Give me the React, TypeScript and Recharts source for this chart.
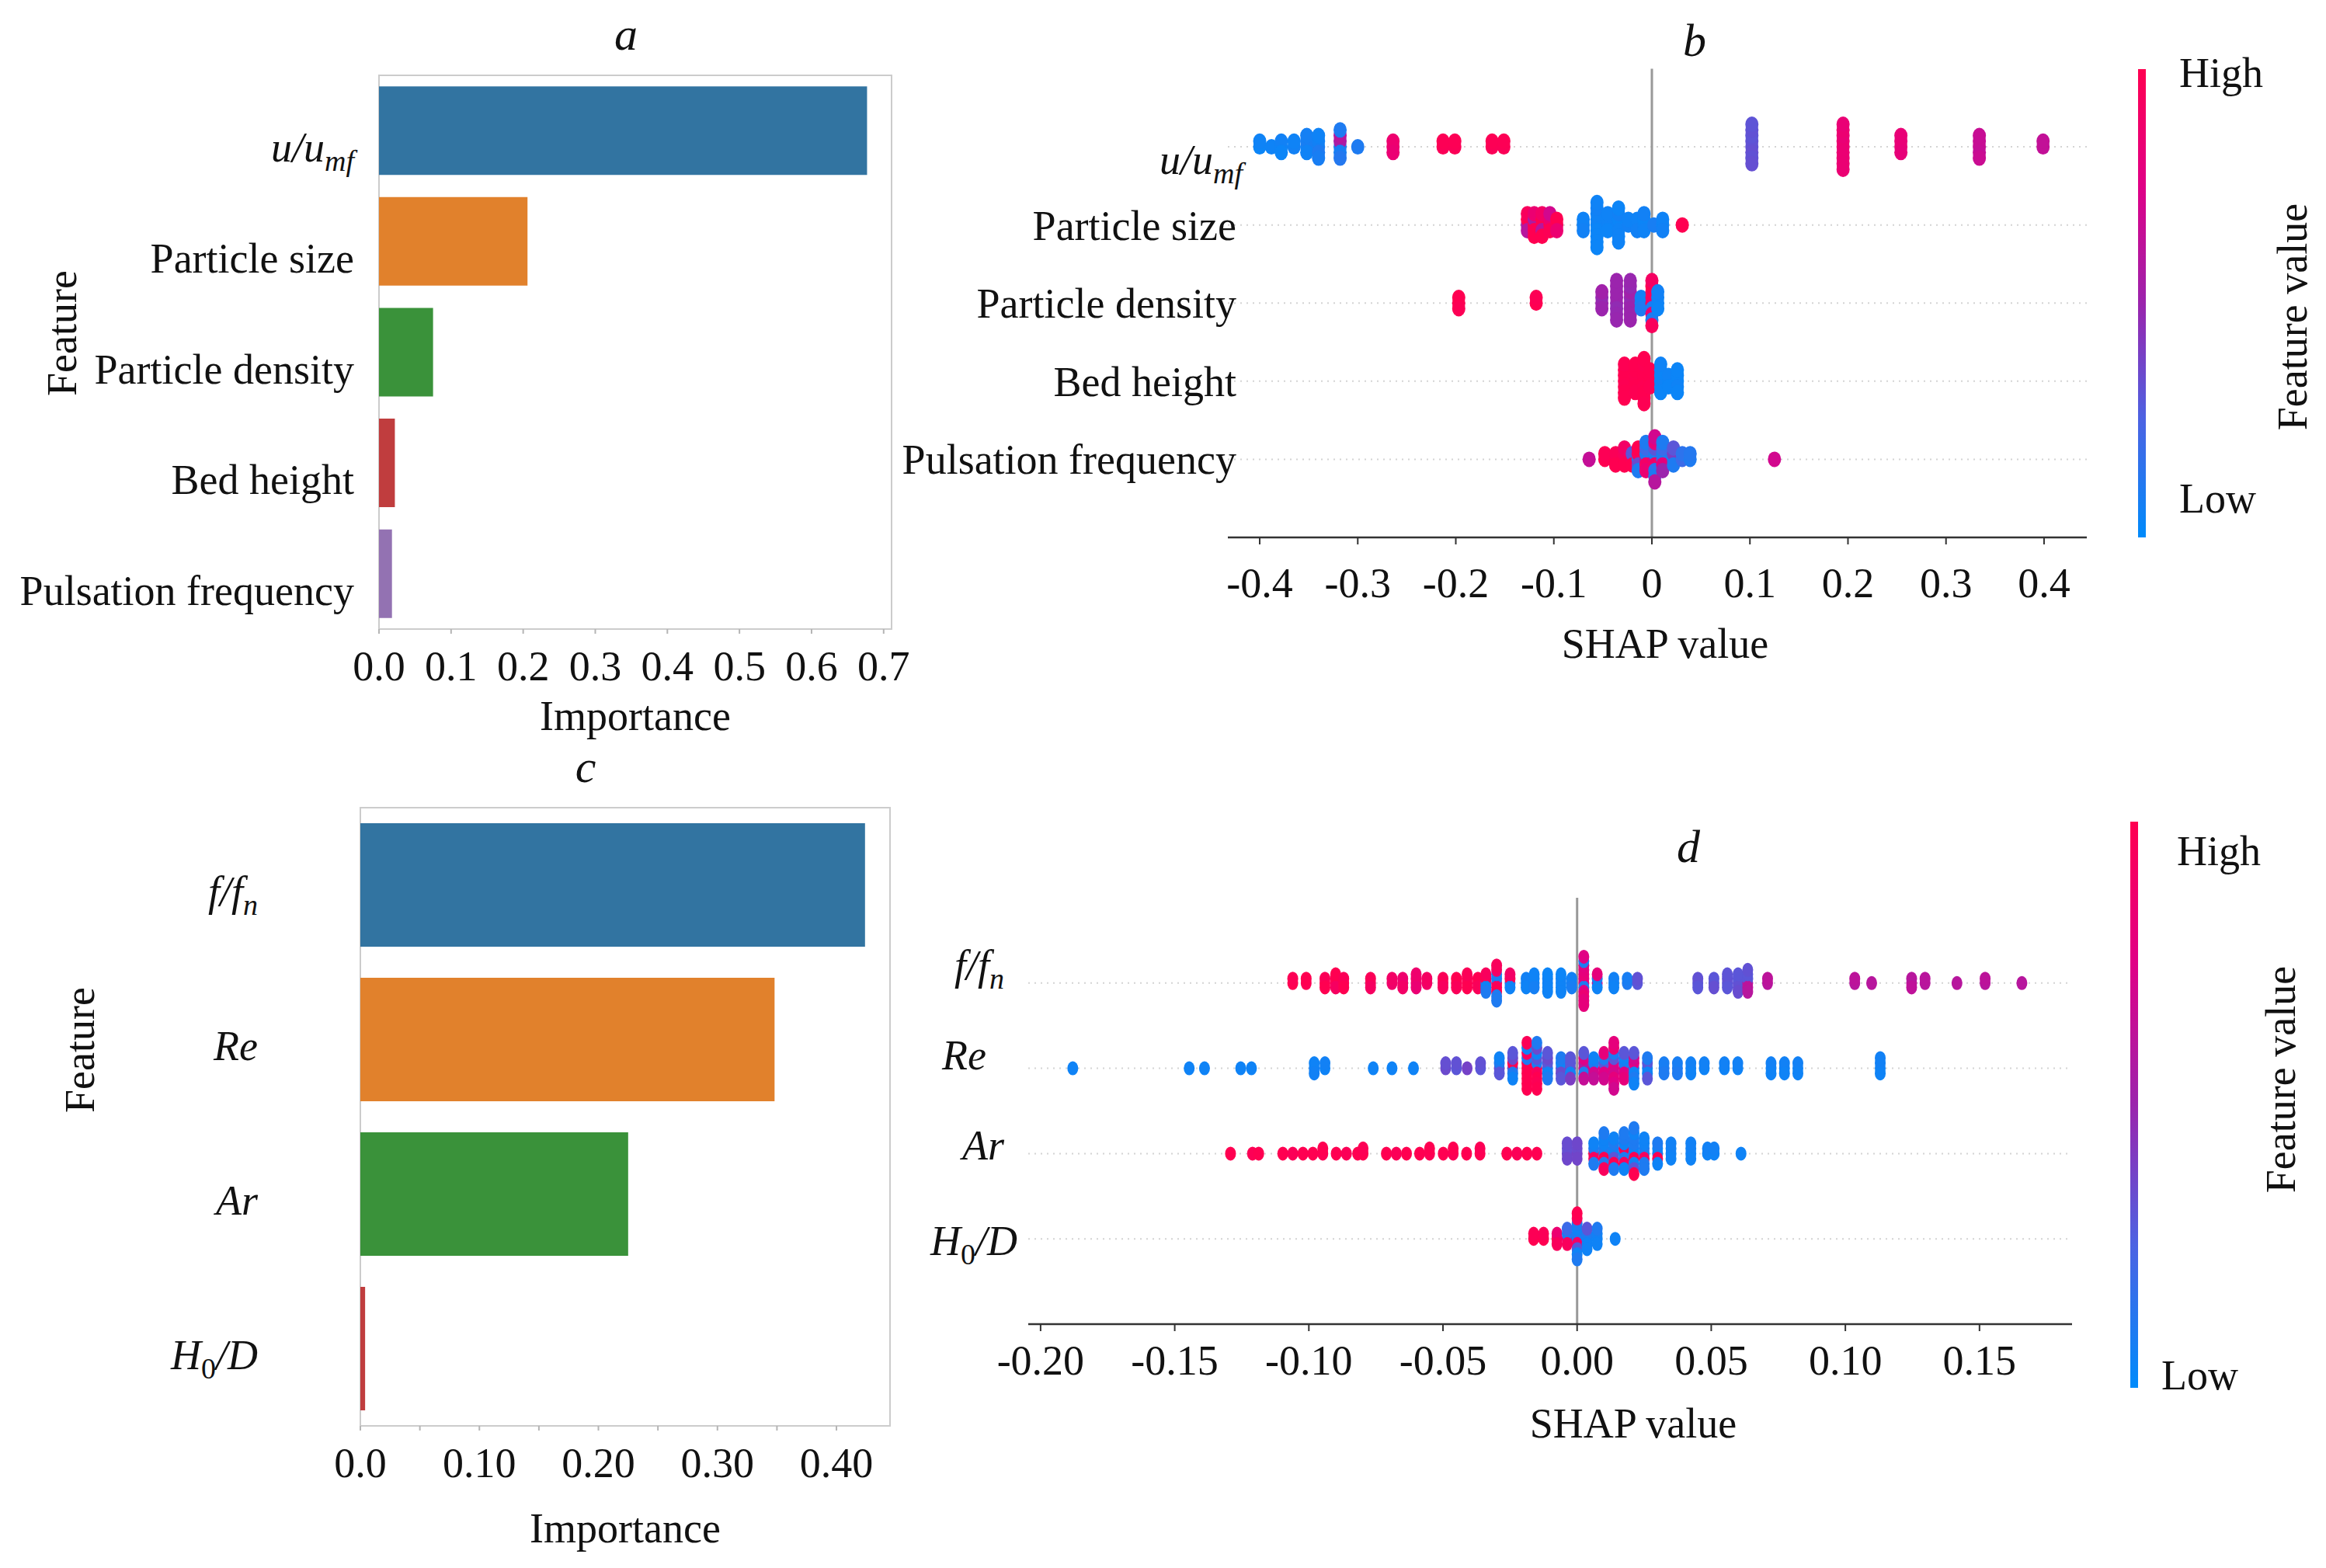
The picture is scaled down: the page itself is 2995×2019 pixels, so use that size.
import React from 'react';
import {
  BarChart, Bar, Cell, XAxis, YAxis, ReferenceArea, ReferenceLine,
  ScatterChart, Scatter, Label,
} from 'recharts';

const FONT = '"Liberation Serif", "Times New Roman", serif';
const FS = 54;

// ---------- panel a: feature importance ----------
const featuresA = ['u/u_mf', 'Particle size', 'Particle density', 'Bed height', 'Pulsation frequency'];
const importanceA = [0.677, 0.206, 0.075, 0.022, 0.018];
const ticksA = [0, 0.1, 0.2, 0.3, 0.4, 0.5, 0.6, 0.7];

// ---------- panel c: feature importance ----------
const featuresC = ['f/f_n', 'Re', 'Ar', 'H_0/D'];
const importanceC = [0.424, 0.348, 0.225, 0.004];
const ticksC = [0, 0.05, 0.1, 0.15, 0.2, 0.25, 0.3, 0.35, 0.4];

const barColors = ['#3274a1', '#e1812c', '#3a923a', '#c03d3e', '#9372b2'];

// ---------- panel b: SHAP values [shap, normalised feature value] ----------
type ShapPoint = [number, number];

const uUmfShap: ShapPoint[] = [
  [-0.4, 0.04], [-0.4, 0.05],
  [-0.388, 0.05],
  [-0.378, 0.05], [-0.378, 0.06], [-0.378, 0.04],
  [-0.365, 0.06], [-0.365, 0.05],
  [-0.352, 0.06], [-0.352, 0.08], [-0.352, 0.05], [-0.352, 0.07],
  [-0.34, 0.08], [-0.34, 0.06], [-0.34, 0.1], [-0.34, 0.05], [-0.34, 0.08],
  [-0.318, 0.1], [-0.318, 0.55], [-0.318, 0.08], [-0.318, 0.6], [-0.318, 0.12], [-0.318, 0.1],
  [-0.3, 0.1],
  [-0.264, 0.85], [-0.264, 0.86], [-0.264, 0.84],
  [-0.213, 0.97], [-0.213, 0.98],
  [-0.201, 0.97], [-0.201, 0.98],
  [-0.163, 0.97], [-0.163, 0.98],
  [-0.151, 0.97], [-0.151, 0.98],
  [0.102, 0.32], [0.102, 0.32], [0.102, 0.33], [0.102, 0.31], [0.102, 0.32], [0.102, 0.32], [0.102, 0.33], [0.102, 0.31],
  [0.195, 0.84], [0.195, 0.85], [0.195, 0.84], [0.195, 0.83], [0.195, 0.84], [0.195, 0.85], [0.195, 0.84], [0.195, 0.83], [0.195, 0.84],
  [0.254, 0.82], [0.254, 0.82], [0.254, 0.81], [0.254, 0.82],
  [0.334, 0.66], [0.334, 0.66], [0.334, 0.65], [0.334, 0.66], [0.334, 0.67],
  [0.399, 0.64], [0.399, 0.64],
];

const particleSizeShap: ShapPoint[] = [
  [-0.127, 0.55], [-0.127, 1], [-0.127, 0.6], [-0.127, 0.95],
  [-0.12, 1], [-0.12, 0.55], [-0.12, 0.98], [-0.12, 0.85], [-0.12, 1],
  [-0.112, 0.98], [-0.112, 1], [-0.112, 0.6], [-0.112, 0.9], [-0.112, 1],
  [-0.104, 1], [-0.104, 0.85], [-0.104, 0.98], [-0.104, 0.7],
  [-0.097, 0.95], [-0.097, 1], [-0.097, 0.85],
  [-0.07, 0.05], [-0.07, 0.05], [-0.07, 0.06],
  [-0.056, 0.04], [-0.056, 0.05], [-0.056, 0.04], [-0.056, 0.05], [-0.056, 0.04], [-0.056, 0.06], [-0.056, 0.04], [-0.056, 0.05], [-0.056, 0.04],
  [-0.045, 0.05], [-0.045, 0.05], [-0.045, 0.04], [-0.045, 0.05],
  [-0.034, 0.05], [-0.034, 0.04], [-0.034, 0.05], [-0.034, 0.06], [-0.034, 0.05], [-0.034, 0.04], [-0.034, 0.05],
  [-0.024, 0.06], [-0.024, 0.05],
  [-0.015, 0.05], [-0.015, 0.05], [-0.015, 0.06],
  [-0.008, 0.05], [-0.008, 0.04], [-0.008, 0.05], [-0.008, 0.06],
  [0.002, 0.08],
  [0.011, 0.05], [0.011, 0.05], [0.011, 0.06],
  [0.031, 1],
];

const particleDensityShap: ShapPoint[] = [
  [-0.197, 1], [-0.197, 1], [-0.197, 0.98],
  [-0.118, 1], [-0.118, 0.98],
  [-0.051, 0.5], [-0.051, 0.48], [-0.051, 0.5], [-0.051, 0.52],
  [-0.036, 0.48], [-0.036, 0.5], [-0.036, 0.47], [-0.036, 0.5], [-0.036, 0.48], [-0.036, 0.5], [-0.036, 0.49], [-0.036, 0.5],
  [-0.022, 0.5], [-0.022, 0.48], [-0.022, 0.5], [-0.022, 0.52], [-0.022, 0.5], [-0.022, 0.48], [-0.022, 0.5], [-0.022, 0.49],
  [-0.011, 0.08], [-0.011, 0.06], [-0.011, 0.1],
  [0, 0.97], [0, 0.9], [0, 0.1], [0, 0.95], [0, 0.85], [0, 1], [0, 0.1], [0, 0.92], [0, 0.95],
  [0.006, 0.05], [0.006, 0.05], [0.006, 0.04], [0.006, 0.06],
];

const bedHeightShap: ShapPoint[] = [
  [-0.028, 1], [-0.028, 1], [-0.028, 0.99], [-0.028, 1], [-0.028, 1], [-0.028, 0.99], [-0.028, 1],
  [-0.017, 1], [-0.017, 0.99], [-0.017, 1], [-0.017, 1], [-0.017, 0.99], [-0.017, 1],
  [-0.008, 1], [-0.008, 1], [-0.008, 0.99], [-0.008, 1], [-0.008, 1], [-0.008, 0.99], [-0.008, 1], [-0.008, 1], [-0.008, 0.99],
  [-0.002, 1], [-0.002, 1], [-0.002, 0.99], [-0.002, 1],
  [0.009, 0.04], [0.009, 0.04], [0.009, 0.05], [0.009, 0.04], [0.009, 0.04], [0.009, 0.05],
  [0.017, 0.04], [0.017, 0.05], [0.017, 0.04],
  [0.026, 0.04], [0.026, 0.04], [0.026, 0.05], [0.026, 0.04], [0.026, 0.04],
];

const pulsationShap: ShapPoint[] = [
  [-0.064, 0.65],
  [-0.048, 1], [-0.048, 0.98],
  [-0.037, 1], [-0.037, 0.97], [-0.037, 1],
  [-0.028, 1], [-0.028, 0.95], [-0.028, 1], [-0.028, 0.9],
  [-0.02, 0.95], [-0.02, 0.3], [-0.02, 1],
  [-0.014, 0.1], [-0.014, 0.95], [-0.014, 0.35], [-0.014, 1], [-0.014, 0.1],
  [-0.006, 0.6], [-0.006, 0.1], [-0.006, 0.9], [-0.006, 0.2], [-0.006, 0.85], [-0.006, 0.1],
  [0.003, 0.75], [0.003, 0.1], [0.003, 0.9], [0.003, 0.3], [0.003, 0.15], [0.003, 0.8], [0.003, 0.1], [0.003, 0.7], [0.003, 0.6],
  [0.011, 0.3], [0.011, 0.1], [0.011, 0.8], [0.011, 0.2], [0.011, 0.5], [0.011, 0.1],
  [0.022, 0.1], [0.022, 0.4], [0.022, 0.1], [0.022, 0.3],
  [0.031, 0.2], [0.031, 0.15],
  [0.039, 0.1], [0.039, 0.12],
  [0.125, 0.7],
];

// ---------- panel d: SHAP values ----------
const ffnShap: ShapPoint[] = [
  [-0.106, 1], [-0.106, 0.98],
  [-0.101, 0.98], [-0.101, 1],
  [-0.094, 1], [-0.094, 0.97], [-0.094, 1],
  [-0.09, 0.95], [-0.09, 1], [-0.09, 0.93], [-0.09, 1],
  [-0.087, 1], [-0.087, 0.97], [-0.087, 1],
  [-0.077, 0.95], [-0.077, 0.97], [-0.077, 0.93],
  [-0.069, 0.88], [-0.069, 0.9],
  [-0.065, 0.9], [-0.065, 0.87], [-0.065, 0.9],
  [-0.06, 0.85], [-0.06, 0.88], [-0.06, 0.84], [-0.06, 0.87],
  [-0.056, 0.9], [-0.056, 0.92],
  [-0.05, 0.95], [-0.05, 0.97], [-0.05, 0.94],
  [-0.045, 0.97], [-0.045, 1], [-0.045, 0.96],
  [-0.041, 1], [-0.041, 0.98], [-0.041, 1], [-0.041, 0.97],
  [-0.037, 0.95], [-0.037, 1], [-0.037, 0.96],
  [-0.034, 0.1], [-0.034, 1], [-0.034, 0.05], [-0.034, 0.95], [-0.034, 0.1],
  [-0.03, 1], [-0.03, 0.1], [-0.03, 0.95], [-0.03, 0.08], [-0.03, 1], [-0.03, 0.9], [-0.03, 0.1], [-0.03, 0.95], [-0.03, 0.1],
  [-0.025, 0.1], [-0.025, 1], [-0.025, 0.05], [-0.025, 0.9],
  [-0.019, 0.05], [-0.019, 0.06], [-0.019, 0.05],
  [-0.016, 0.06], [-0.016, 0.05], [-0.016, 0.07], [-0.016, 0.05],
  [-0.011, 0.05], [-0.011, 0.06], [-0.011, 0.05], [-0.011, 0.04], [-0.011, 0.05],
  [-0.006, 0.05], [-0.006, 0.06], [-0.006, 0.05], [-0.006, 0.04], [-0.006, 0.05],
  [-0.002, 0.08], [-0.002, 0.06], [-0.002, 0.08],
  [0.0025, 0.8], [0.0025, 0.78], [0.0025, 0.1], [0.0025, 0.82], [0.0025, 0.75], [0.0025, 0.8],
  [0.0025, 0.85], [0.0025, 0.78], [0.0025, 0.8], [0.0025, 0.1], [0.0025, 0.8], [0.0025, 0.76],
  [0.0075, 0.7], [0.0075, 0.1], [0.0075, 0.05], [0.0075, 0.8],
  [0.0137, 0.05], [0.0137, 0.06], [0.0137, 0.05],
  [0.0187, 0.1], [0.0187, 0.08],
  [0.0225, 0.3], [0.0225, 0.32],
  [0.045, 0.3], [0.045, 0.32], [0.045, 0.3],
  [0.051, 0.32], [0.051, 0.3], [0.051, 0.33],
  [0.056, 0.3], [0.056, 0.32], [0.056, 0.3], [0.056, 0.31],
  [0.06, 0.33], [0.06, 0.3], [0.06, 0.32], [0.06, 0.3], [0.06, 0.34],
  [0.0636, 0.6], [0.0636, 0.3], [0.0636, 0.62], [0.0636, 0.3], [0.0636, 0.6], [0.0636, 0.32],
  [0.071, 0.6], [0.071, 0.62],
  [0.1035, 0.6], [0.1035, 0.62],
  [0.1098, 0.6],
  [0.1247, 0.62], [0.1247, 0.6], [0.1247, 0.63],
  [0.1297, 0.6], [0.1297, 0.61],
  [0.1416, 0.6],
  [0.1521, 0.6], [0.1521, 0.62],
  [0.1658, 0.6],
];

const reShap: ShapPoint[] = [
  [-0.188, 0.05],
  [-0.1446, 0.05], [-0.1389, 0.05],
  [-0.1254, 0.05], [-0.1214, 0.05],
  [-0.098, 0.06], [-0.098, 0.05], [-0.098, 0.06],
  [-0.094, 0.05], [-0.094, 0.06],
  [-0.076, 0.05], [-0.069, 0.05], [-0.061, 0.05],
  [-0.049, 0.35], [-0.049, 0.33],
  [-0.045, 0.3], [-0.045, 0.32],
  [-0.041, 0.38],
  [-0.036, 0.3], [-0.036, 0.32],
  [-0.029, 0.35], [-0.029, 0.1], [-0.029, 0.3], [-0.029, 0.05],
  [-0.024, 0.3], [-0.024, 1], [-0.024, 0.1], [-0.024, 0.35], [-0.024, 0.05], [-0.024, 0.3],
  [-0.0187, 1], [-0.0187, 0.98], [-0.0187, 1], [-0.0187, 0.1], [-0.0187, 1],
  [-0.0187, 0.95], [-0.0187, 1], [-0.0187, 0.05], [-0.0187, 1], [-0.0187, 0.97],
  [-0.015, 1], [-0.015, 0.1], [-0.015, 0.95], [-0.015, 0.3], [-0.015, 1],
  [-0.015, 0.05], [-0.015, 0.98], [-0.015, 0.35], [-0.015, 1], [-0.015, 0.1],
  [-0.011, 0.1], [-0.011, 0.3], [-0.011, 0.05], [-0.011, 0.35], [-0.011, 0.1], [-0.011, 0.3],
  [-0.006, 0.3], [-0.006, 0.05], [-0.006, 0.35], [-0.006, 0.1], [-0.006, 0.3],
  [-0.0025, 0.35], [-0.0025, 0.3], [-0.0025, 0.05], [-0.0025, 0.3], [-0.0025, 0.4],
  [0.0025, 0.7], [0.0025, 0.6], [0.0025, 0.1], [0.0025, 0.75], [0.0025, 0.65], [0.0025, 0.3],
  [0.0062, 0.75], [0.0062, 0.1], [0.0062, 0.7], [0.0062, 0.05], [0.0062, 0.65],
  [0.01, 0.8], [0.01, 0.3], [0.01, 0.75], [0.01, 0.1], [0.01, 0.7], [0.01, 0.8],
  [0.0137, 0.8], [0.0137, 0.75], [0.0137, 0.7], [0.0137, 0.3], [0.0137, 0.8],
  [0.0137, 0.1], [0.0137, 0.75], [0.0137, 0.85], [0.0137, 0.7], [0.0137, 0.8],
  [0.0175, 0.7], [0.0175, 0.1], [0.0175, 0.75], [0.0175, 0.05], [0.0175, 0.8], [0.0175, 0.3],
  [0.0212, 0.1], [0.0212, 0.75], [0.0212, 0.05], [0.0212, 0.7], [0.0212, 0.1], [0.0212, 0.3], [0.0212, 0.05],
  [0.0262, 0.05], [0.0262, 0.3], [0.0262, 0.05], [0.0262, 0.1], [0.0262, 0.3],
  [0.0324, 0.1], [0.0324, 0.08], [0.0324, 0.1],
  [0.0374, 0.1], [0.0374, 0.08], [0.0374, 0.1],
  [0.0424, 0.05], [0.0424, 0.06], [0.0424, 0.05],
  [0.0474, 0.05], [0.0474, 0.06],
  [0.0549, 0.05], [0.0549, 0.06],
  [0.0599, 0.05], [0.0599, 0.06],
  [0.0723, 0.05], [0.0723, 0.06], [0.0723, 0.05],
  [0.0773, 0.05], [0.0773, 0.06], [0.0773, 0.05],
  [0.0823, 0.05], [0.0823, 0.06], [0.0823, 0.05],
  [0.113, 0.05], [0.113, 0.06], [0.113, 0.05], [0.113, 0.06],
];

const arShap: ShapPoint[] = [
  [-0.1292, 1], [-0.121, 0.98], [-0.1187, 1], [-0.1097, 1], [-0.106, 0.97], [-0.1022, 1],
  [-0.0985, 1], [-0.0948, 0.98], [-0.0948, 1], [-0.0898, 1], [-0.086, 0.97], [-0.0818, 1],
  [-0.0798, 1], [-0.0798, 0.98], [-0.0711, 1], [-0.0674, 0.97], [-0.0636, 1], [-0.0587, 1],
  [-0.055, 0.98], [-0.055, 1], [-0.0499, 1], [-0.0462, 0.97], [-0.0462, 1], [-0.0412, 1],
  [-0.0362, 1], [-0.0362, 0.98], [-0.0262, 1], [-0.0224, 0.97], [-0.0187, 1], [-0.015, 1],
  [-0.0037, 0.35], [-0.0037, 0.33], [-0.0037, 0.36], [-0.0037, 0.34],
  [0, 0.38], [0, 0.35], [0, 0.37], [0, 0.36],
  [0.0062, 1], [0.0062, 0.1], [0.0062, 0.95], [0.0062, 0.05], [0.0062, 0.1],
  [0.01, 0.05], [0.01, 0.1], [0.01, 1], [0.01, 0.05], [0.01, 0.1], [0.01, 0.05], [0.01, 0.95], [0.01, 0.1],
  [0.0137, 0.1], [0.0137, 0.05], [0.0137, 0.3], [0.0137, 0.1], [0.0137, 1], [0.0137, 0.05], [0.0137, 0.1],
  [0.0175, 0.05], [0.0175, 1], [0.0175, 0.1], [0.0175, 0.05], [0.0175, 0.95], [0.0175, 0.1], [0.0175, 0.05], [0.0175, 0.1],
  [0.0212, 0.1], [0.0212, 0.05], [0.0212, 1], [0.0212, 0.1], [0.0212, 0.05],
  [0.0212, 0.1], [0.0212, 0.3], [0.0212, 0.05], [0.0212, 1], [0.0212, 0.1],
  [0.025, 0.05], [0.025, 0.1], [0.025, 0.95], [0.025, 0.05], [0.025, 0.1], [0.025, 0.05], [0.025, 0.1],
  [0.03, 0.1], [0.03, 0.05], [0.03, 1], [0.03, 0.1], [0.03, 0.05],
  [0.035, 0.05], [0.035, 0.06], [0.035, 0.05], [0.035, 0.06],
  [0.0424, 0.05], [0.0424, 0.06], [0.0424, 0.05], [0.0424, 0.06],
  [0.0486, 0.05], [0.0486, 0.06],
  [0.0511, 0.05], [0.0511, 0.06],
  [0.0611, 0.05],
];

const h0dShap: ShapPoint[] = [
  [-0.0162, 1], [-0.0162, 0.98],
  [-0.0125, 1], [-0.0125, 0.97],
  [-0.0075, 1], [-0.0075, 0.85], [-0.0075, 0.95],
  [-0.0037, 0.8], [-0.0037, 0.1], [-0.0037, 0.95], [-0.0037, 0.2],
  [0, 0.05], [0, 0.1], [0, 0.9], [0, 0.05], [0, 0.3], [0, 0.1], [0, 0.05], [0, 0.95], [0, 0.1], [0, 1],
  [0.0037, 0.05], [0.0037, 0.1], [0.0037, 0.05], [0.0037, 0.3], [0.0037, 0.05],
  [0.0075, 0.05], [0.0075, 0.06], [0.0075, 0.05], [0.0075, 0.1],
  [0.0142, 0.05],
];

const featuresB = ['u/u_mf', 'Particle size', 'Particle density', 'Bed height', 'Pulsation frequency'];
const rowsB = [uUmfShap, particleSizeShap, particleDensityShap, bedHeightShap, pulsationShap];
const ticksB = [-0.4, -0.3, -0.2, -0.1, 0, 0.1, 0.2, 0.3, 0.4];

const featuresD = ['f/f_n', 'Re', 'Ar', 'H_0/D'];
const rowsD = [ffnShap, reShap, arShap, h0dShap];
const ticksD = [-0.2, -0.15, -0.1, -0.05, 0, 0.05, 0.1, 0.15];

// shap red_blue colormap (sampled)
const SHAP_STOPS: [number, number[]][] = [
  [0, [0, 139, 251]],
  [0.25, [75, 99, 227]],
  [0.5, [155, 36, 173]],
  [0.75, [224, 0, 134]],
  [1, [255, 0, 81]],
];

function shapColor(t: number) {
  const v = Math.max(0, Math.min(1, t));
  for (let i = 1; i < SHAP_STOPS.length; i++) {
    const [t1, c1] = SHAP_STOPS[i];
    const [t0, c0] = SHAP_STOPS[i - 1];
    if (v <= t1) {
      const f = (v - t0) / (t1 - t0);
      const c = c0.map((a, k) => Math.round(a + (c1[k] - a) * f));
      return `rgb(${c[0]},${c[1]},${c[2]})`;
    }
  }
  return 'rgb(255,0,81)';
}

// shap-style beeswarm layout: bin the values, stack points that share a bin
function beeswarm(values: ShapPoint[], pos: number) {
  const nbins = 100;
  const rowHeight = 0.4;
  const xs = values.map((v) => v[0]);
  const lo = Math.min(...xs);
  const hi = Math.max(...xs);
  const quant = xs.map((x) => Math.round((nbins * (x - lo)) / (hi - lo + 1e-8)));
  const order = xs.map((_, i) => i).sort((a, b) => quant[a] - quant[b] || a - b);
  const layers = new Array(xs.length).fill(0);
  let layer = 0;
  let last = -1;
  order.forEach((i) => {
    if (quant[i] !== last) layer = 0;
    layers[i] = Math.ceil(layer / 2) * ((layer % 2) * 2 - 1);
    layer += 1;
    last = quant[i];
  });
  const peak = Math.max(...layers) + 1;
  return values.map(([x, fv], i) => ({ x, y: pos + (layers[i] * 0.9 * rowHeight) / peak, fv }));
}

// label markup with subscripts
const SUBSCRIPTED: Record<string, [string, string, string]> = {
  'u/u_mf': ['u/u', 'mf', ''],
  'f/f_n': ['f/f', 'n', ''],
  'H_0/D': ['H', '0', '/D'],
};

function labelContent(name: string) {
  const s = SUBSCRIPTED[name];
  if (!s) return name;
  const [head, sub, tail] = s;
  return (
    <>
      <tspan>{head}</tspan>
      <tspan dy={12} fontSize={38} fontStyle={sub === '0' ? 'normal' : 'italic'}>{sub}</tspan>
      {tail ? <tspan dy={-12}>{tail}</tspan> : null}
    </>
  );
}

type TickPlace = { x: number; dy: number };

const featureTick = (names: string[] | null, place: (n: string) => TickPlace, italic: (n: string) => boolean) =>
  (props: any) => {
    const v = props.payload.value;
    const name = names ? names[names.length - 1 - v] : v;
    if (name === undefined) return <g />;
    const p = place(name);
    return (
      <text
        x={p.x}
        y={props.y + p.dy}
        textAnchor="end"
        fontFamily={FONT}
        fontSize={FS}
        fill="#111"
        fontStyle={italic(name) ? 'italic' : 'normal'}
      >
        {labelContent(name)}
      </text>
    );
  };

const tickStyle = { fontSize: FS, fontFamily: FONT, fill: '#111' };

const dataA = featuresA.map((feature, i) => ({ feature, importance: importanceA[i] }));
const dataC = featuresC.map((feature, i) => ({ feature, importance: importanceC[i] }));

const swarmB = rowsB.map((row, i) => beeswarm(row, rowsB.length - 1 - i));
const swarmD = rowsD.map((row, i) => beeswarm(row, rowsD.length - 1 - i));

const dOffsets: Record<string, TickPlace> = {
  'f/f_n': { x: 143, dy: -5 },
  Re: { x: 120, dy: 1 },
  Ar: { x: 143, dy: 8 },
  'H_0/D': { x: 160, dy: 21 },
};

function ImportancePanel(props: {
  data: { feature: string; importance: number }[];
  ticks: number[];
  max: number;
  width: number;
  height: number;
  margin: { top: number; right: number; left: number; bottom: number };
  yWidth: number;
  xHeight: number;
  labelRight: number;
  labelDy: number;
  italicAll: boolean;
  format: (v: number, i: number) => string;
}) {
  return (
    <BarChart
      width={props.width}
      height={props.height}
      data={props.data}
      layout="vertical"
      margin={props.margin}
      barCategoryGap="10%"
    >
      <ReferenceArea x1={0} x2={props.max} fill="none" stroke="#cccccc" strokeWidth={2} ifOverflow="visible" />
      <XAxis
        type="number"
        domain={[0, props.max]}
        ticks={props.ticks}
        interval={0}
        allowDataOverflow
        height={props.xHeight}
        axisLine={false}
        tickLine={{ stroke: '#b5b5b5', strokeWidth: 2 }}
        tickSize={6}
        tickMargin={22}
        tick={tickStyle}
        tickFormatter={props.format}
      >
        <Label value="Importance" position="insideBottom" offset={0} fontSize={FS} fontFamily={FONT} fill="#111" />
      </XAxis>
      <YAxis
        type="category"
        dataKey="feature"
        width={props.yWidth}
        axisLine={false}
        tickLine={false}
        tickSize={0}
        tickMargin={0}
        interval={0}
        tick={featureTick(
          null,
          () => ({ x: props.labelRight, dy: props.labelDy }),
          (n) => props.italicAll || n === 'u/u_mf',
        )}
      />
      <Bar dataKey="importance" isAnimationActive={false}>
        {props.data.map((d, i) => (
          <Cell key={d.feature} fill={barColors[i]} />
        ))}
      </Bar>
    </BarChart>
  );
}

function SwarmPanel(props: {
  swarm: { x: number; y: number; fv: number }[][];
  names: string[];
  ticks: number[];
  domain: [number, number];
  width: number;
  height: number;
  margin: { top: number; right: number; left: number; bottom: number };
  yWidth: number;
  xHeight: number;
  tickMargin: number;
  labelDx: number;
  rx: number;
  ry: number;
  format: (v: number) => string;
  place: (n: string) => TickPlace;
  italic: (n: string) => boolean;
}) {
  const n = props.names.length;
  const positions = props.names.map((_, i) => i);
  return (
    <ScatterChart width={props.width} height={props.height} margin={props.margin}>
      {positions.map((p) => (
        <ReferenceLine key={p} y={p} stroke="#d4d4d4" strokeWidth={2} strokeDasharray="2 6" />
      ))}
      <ReferenceLine x={0} stroke="#999999" strokeWidth={3} />
      <XAxis
        type="number"
        dataKey="x"
        domain={props.domain}
        allowDataOverflow
        ticks={props.ticks}
        interval={0}
        height={props.xHeight}
        axisLine={{ stroke: '#333333', strokeWidth: 2.5 }}
        tickLine={{ stroke: '#333333', strokeWidth: 2 }}
        tickSize={9}
        tickMargin={props.tickMargin}
        tick={tickStyle}
        tickFormatter={props.format}
      >
        <Label value="SHAP value" position="insideBottom" offset={0} dx={props.labelDx} fontSize={FS} fontFamily={FONT} fill="#111" />
      </XAxis>
      <YAxis
        type="number"
        dataKey="y"
        domain={[-1, n]}
        ticks={positions}
        interval={0}
        width={props.yWidth}
        axisLine={false}
        tickLine={false}
        tickSize={0}
        tickMargin={0}
        tick={featureTick(props.names, props.place, props.italic)}
      />
      {props.swarm.map((pts, i) => (
        <Scatter
          key={props.names[i]}
          data={pts}
          isAnimationActive={false}
          shape={(s: any) => (
            <ellipse cx={s.cx} cy={s.cy} rx={props.rx} ry={props.ry} fill={shapColor(s.payload.fv)} />
          )}
        />
      ))}
    </ScatterChart>
  );
}

const abs = (left: number, top: number): React.CSSProperties => ({ position: 'absolute', left, top });

export default function App() {
  const txt = { fontFamily: FONT, fontSize: FS, fill: '#111' };
  const title = { fontFamily: FONT, fontSize: 60, fontStyle: 'italic' as const, fill: '#111', textAnchor: 'middle' as const };
  return (
    <div style={{ position: 'fixed', left: 0, top: 0, width: 2995, height: 2019, background: '#fff', overflow: 'hidden' }}>
      <div style={abs(0, 0)}>
        <ImportancePanel
          data={dataA}
          ticks={ticksA}
          max={0.711}
          width={1200}
          height={1000}
          margin={{ top: 97, right: 52, left: 0, bottom: 60 }}
          yWidth={488}
          xHeight={130}
          labelRight={456}
          labelDy={40}
          italicAll={false}
          format={(v) => v.toFixed(1)}
        />
      </div>
      <div style={abs(0, 960)}>
        <ImportancePanel
          data={dataC}
          ticks={ticksC}
          max={0.445}
          width={1200}
          height={1059}
          margin={{ top: 80, right: 54, left: 0, bottom: 33 }}
          yWidth={464}
          xHeight={150}
          labelRight={332}
          labelDy={26}
          italicAll
          format={(v, i) => (v === 0 ? '0.0' : i % 2 === 0 ? v.toFixed(2) : '')}
        />
      </div>
      <div style={abs(1150, 0)}>
        <SwarmPanel
          swarm={swarmB}
          names={featuresB}
          ticks={ticksB}
          domain={[-0.4325, 0.4436]}
          width={1570}
          height={960}
          margin={{ top: 88.5, right: 33, left: 0, bottom: 113 }}
          yWidth={431}
          xHeight={155}
          tickMargin={30}
          labelDx={10}
          rx={8.5}
          ry={10}
          format={(v) => (v === 0 ? '0' : v.toFixed(1))}
          place={(nm) => (nm === 'u/u_mf' ? { x: 450, dy: 35 } : { x: 442, dy: 19 })}
          italic={(nm) => nm === 'u/u_mf'}
        />
      </div>
      <div style={abs(1150, 1000)}>
        <SwarmPanel
          swarm={swarmD}
          names={featuresD}
          ticks={ticksD}
          domain={[-0.2046, 0.1845]}
          width={1550}
          height={1019}
          margin={{ top: 156, right: 32, left: 0, bottom: 168 }}
          yWidth={174}
          xHeight={146}
          tickMargin={18}
          labelDx={107}
          rx={7}
          ry={9}
          format={(v) => v.toFixed(2)}
          place={(nm) => dOffsets[nm]}
          italic={() => true}
        />
      </div>
      <svg width={2995} height={2019} style={{ position: 'absolute', left: 0, top: 0, pointerEvents: 'none' }}>
        <defs>
          <linearGradient id="shapBar" x1="0" y1="1" x2="0" y2="0">
            {SHAP_STOPS.map(([t, c]) => (
              <stop key={t} offset={t} stopColor={`rgb(${c[0]},${c[1]},${c[2]})`} />
            ))}
          </linearGradient>
        </defs>
        <text x={806} y={64} {...title}>a</text>
        <text x={2182} y={72} {...title}>b</text>
        <text x={754} y={1007} {...title}>c</text>
        <text x={2174} y={1110} {...title}>d</text>
        <text transform="translate(98,429) rotate(-90)" textAnchor="middle" {...txt}>Feature</text>
        <text transform="translate(121,1352) rotate(-90)" textAnchor="middle" {...txt}>Feature</text>
        <rect x={2753} y={89} width={10} height={603} fill="url(#shapBar)" />
        <text x={2806} y={112} {...txt}>High</text>
        <text x={2806} y={660} {...txt}>Low</text>
        <text transform="translate(2970,408) rotate(-90)" textAnchor="middle" {...txt}>Feature value</text>
        <rect x={2743} y={1058} width={10} height={729} fill="url(#shapBar)" />
        <text x={2803} y={1114} {...txt}>High</text>
        <text x={2783} y={1789} {...txt}>Low</text>
        <text transform="translate(2955,1390) rotate(-90)" textAnchor="middle" {...txt}>Feature value</text>
      </svg>
    </div>
  );
}
